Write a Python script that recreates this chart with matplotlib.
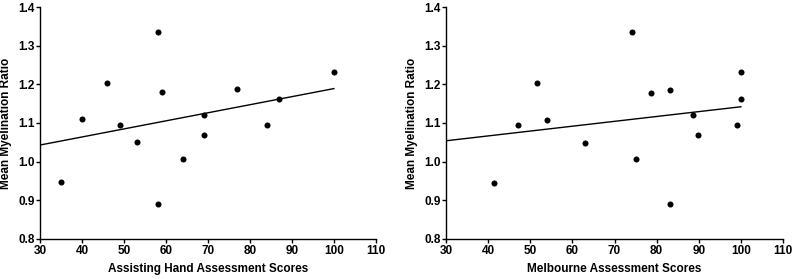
import matplotlib
matplotlib.use("Agg")
import matplotlib.pyplot as plt
import numpy as np

plt.rcParams['font.family'] = ['Liberation Sans', 'DejaVu Sans']
plt.rcParams['font.weight'] = 'bold'

# Assisting Hand Assessment panel
aha_scores = [35, 40, 46, 49, 53, 58, 59, 58, 64, 69, 69, 77, 84, 87, 100]
aha_ratio = [0.947, 1.110, 1.203, 1.094, 1.050, 1.335, 1.179, 0.891, 1.007,
             1.121, 1.070, 1.187, 1.094, 1.162, 1.231]
aha_line_x = [30, 100]
aha_line_y = [1.043, 1.189]

# Melbourne Assessment panel
mel_scores = [41.5, 47.1, 51.6, 53.9, 62.9, 74.1, 75.2, 78.7, 83.1, 83.1,
              88.7, 89.9, 99.0, 100, 100]
mel_ratio = [0.946, 1.094, 1.203, 1.109, 1.049, 1.335, 1.006, 1.178, 1.186, 0.890,
             1.120, 1.070, 1.094, 1.231, 1.161]
mel_line_x = [30, 100]
mel_line_y = [1.054, 1.142]

x_ticks = [30, 40, 50, 60, 70, 80, 90, 100, 110]
y_ticks = [0.8, 0.9, 1.0, 1.1, 1.2, 1.3, 1.4]

fig = plt.figure(figsize=(7.94, 2.79), dpi=100)
ax1 = fig.add_axes([0.0504, 0.1434, 0.423, 0.8315])
ax2 = fig.add_axes([0.5617, 0.1434, 0.4245, 0.8315])


def draw_panel(ax, xs, ys, lx, ly, xlabel):
    ax.scatter(xs, ys, s=19, color='black', zorder=3, linewidths=0)
    ax.plot(lx, ly, color='black', linewidth=1.0)
    ax.set_xlim(30, 110)
    ax.set_ylim(0.8, 1.4)
    ax.set_xticks(x_ticks)
    ax.set_yticks(y_ticks)
    ax.set_yticklabels(['%.1f' % v for v in y_ticks])
    ax.spines['top'].set_visible(False)
    ax.spines['right'].set_visible(False)
    ax.spines['left'].set_linewidth(1.0)
    ax.spines['bottom'].set_linewidth(1.0)
    ax.tick_params(direction='out', length=3, width=1.0, labelsize=8.5, pad=1)
    for lab in ax.get_xticklabels() + ax.get_yticklabels():
        lab.set_fontweight('bold')
    ax.set_xlabel(xlabel, fontsize=8.5, fontweight='bold', labelpad=5)
    ax.set_ylabel('Mean Myelination Ratio', fontsize=8.5, fontweight='bold', labelpad=4)


draw_panel(ax1, aha_scores, aha_ratio, aha_line_x, aha_line_y,
           'Assisting Hand Assessment Scores')
draw_panel(ax2, mel_scores, mel_ratio, mel_line_x, mel_line_y,
           'Melbourne Assessment Scores')

fig.savefig('out.png', dpi=100)
